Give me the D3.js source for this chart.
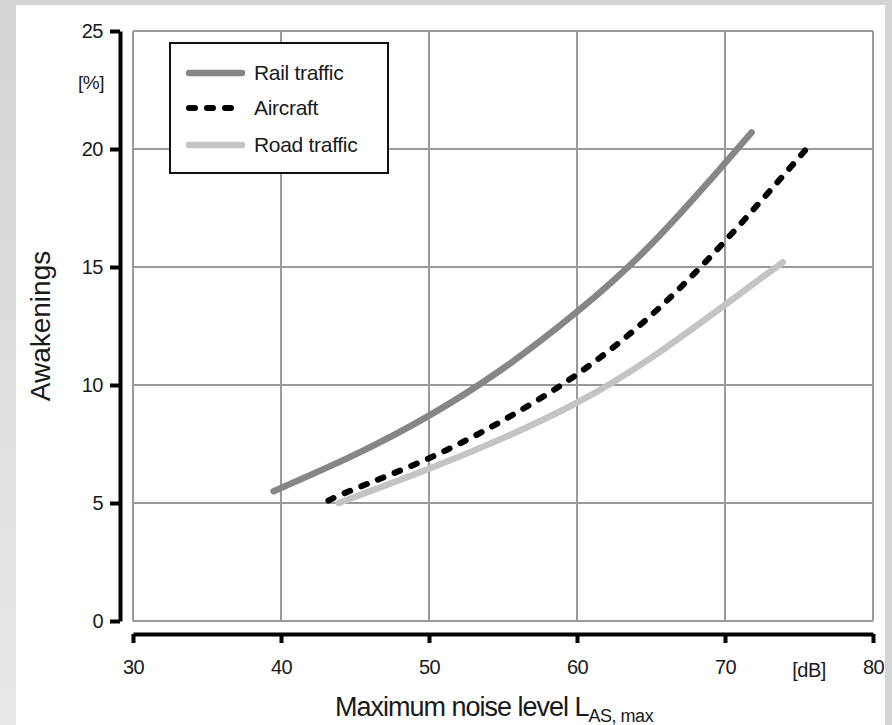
<!DOCTYPE html>
<html>
<head>
<meta charset="utf-8">
<script src="https://cdn.jsdelivr.net/npm/d3@7"></script>
<style>
  body { margin: 0; background: #d4d4d4; }
  svg { display: block; font-family: "Liberation Sans", Arial, sans-serif; }
</style>
</head>
<body>
<svg id="canvas"></svg>
<script>
//--data
let railX = [39.5, 45, 50, 55, 60, 65, 70, 71.8];
let railY = [5.5, 7.05, 8.7, 10.7, 13.1, 15.95, 19.4, 20.7];

let aircraftX = [43.2, 45, 50, 55, 60, 65, 70, 75.5];
let aircraftY = [5.1, 5.6, 6.9, 8.5, 10.45, 12.95, 16.1, 20.0];

let roadX = [43.9, 50, 55, 60, 65, 70, 73.9];
let roadY = [5.0, 6.45, 7.75, 9.25, 11.15, 13.4, 15.2];

let xTicks = [30, 40, 50, 60, 70, 80];
let yTicks = [0, 5, 10, 15, 20, 25];
let seriesNames = ['Rail traffic', 'Aircraft', 'Road traffic'];
//--

let width = 892;
let height = 725;

let canvas = d3.select('#canvas')
canvas.attr('width', width)
canvas.attr('height', height)

//--background panel
let fade = canvas.append('defs').append('linearGradient')
                 .attr('id', 'fade')
                 .attr('x1', 0).attr('y1', 0).attr('x2', 0).attr('y2', 1)
fade.append('stop').attr('offset', '0%').attr('stop-color', '#d4d4d4')
fade.append('stop').attr('offset', '100%').attr('stop-color', '#e8e8e8')

canvas.append('rect')
      .attr('x', 0).attr('y', 5)
      .attr('width', 16).attr('height', height - 5)
      .attr('fill', 'url(#fade)')

canvas.append('rect')
      .attr('x', 16).attr('y', 5)
      .attr('width', 869).attr('height', height - 5)
      .attr('fill', 'white')
//--

let x = d3.scaleLinear().domain([30, 80]).range([133, 873])
let y = d3.scaleLinear().domain([0, 25]).range([621, 31])

//--grid
let grid = canvas.append('g')
                 .attr('stroke', '#9a9a9a')
                 .attr('stroke-width', 2)
                 .attr('fill', 'none')

grid.selectAll('.vgrid')
    .data(xTicks)
    .enter()
    .append('line')
    .attr('x1', d => x(d)).attr('x2', d => x(d))
    .attr('y1', y(25)).attr('y2', y(0))

grid.selectAll('.hgrid')
    .data(yTicks)
    .enter()
    .append('line')
    .attr('x1', x(30)).attr('x2', x(80))
    .attr('y1', d => y(d)).attr('y2', d => y(d))
//--

//--axes
let yAxis = d3.axisLeft(y)
              .tickValues(yTicks)
              .tickSize(10)
              .tickSizeOuter(0)
              .tickPadding(7)

canvas.append('g')
      .attr('transform', 'translate(120, 0)')
      .call(yAxis)

let xAxis = d3.axisBottom(x)
              .tickValues(xTicks)
              .tickSize(9)
              .tickSizeOuter(0)
              .tickPadding(17)

canvas.append('g')
      .attr('transform', 'translate(0, 634)')
      .call(xAxis)

canvas.selectAll('.domain')
      .attr('stroke', '#000')
      .attr('stroke-width', 4)
canvas.selectAll('.tick line')
      .attr('stroke', '#000')
      .attr('stroke-width', 4)
canvas.selectAll('.tick text')
      .attr('font-family', '"Liberation Sans", Arial, sans-serif')
      .attr('font-size', 20)
      .attr('fill', '#1a1a1a')
      .attr('letter-spacing', -0.5)

canvas.append('text')
      .attr('x', 104).attr('y', 82)
      .attr('text-anchor', 'end')
      .attr('dy', '0.35em')
      .attr('font-size', 19)
      .attr('fill', '#1a1a1a')
      .attr('letter-spacing', -0.5)
      .text('[%]')

canvas.append('text')
      .attr('x', 809).attr('y', 677)
      .attr('text-anchor', 'middle')
      .attr('font-size', 20)
      .attr('fill', '#1a1a1a')
      .attr('letter-spacing', -0.5)
      .text('[dB]')

canvas.append('text')
      .attr('transform', 'translate(50, 326) rotate(-90)')
      .attr('text-anchor', 'middle')
      .attr('font-size', 28)
      .attr('fill', '#1a1a1a')
      .text('Awakenings')

let xTitle = canvas.append('text')
                   .attr('x', 335).attr('y', 716)
                   .attr('font-size', 27)
                   .attr('fill', '#1a1a1a')
                   .attr('letter-spacing', -1)
xTitle.append('tspan').text('Maximum noise level L')
xTitle.append('tspan')
      .attr('dy', 6)
      .attr('font-size', 18)
      .attr('letter-spacing', -0.5)
      .text('AS, max')
//--

//--curves
let line = d3.line()
             .x(d => x(d[0]))
             .y(d => y(d[1]))
             .curve(d3.curveNatural)

let rail = d3.zip(railX, railY)
let aircraft = d3.zip(aircraftX, aircraftY)
let road = d3.zip(roadX, roadY)

let styles = [
    {stroke: '#868686', width: 6.5, dash: null},
    {stroke: '#000000', width: 6, dash: '6,12'},
    {stroke: '#c4c4c4', width: 6.5, dash: null}
]

canvas.append('path')
      .datum(road)
      .attr('d', line)
      .attr('fill', 'none')
      .attr('stroke', styles[2].stroke)
      .attr('stroke-width', styles[2].width)
      .attr('stroke-linecap', 'round')

canvas.append('path')
      .datum(rail)
      .attr('d', line)
      .attr('fill', 'none')
      .attr('stroke', styles[0].stroke)
      .attr('stroke-width', styles[0].width)
      .attr('stroke-linecap', 'round')

canvas.append('path')
      .datum(aircraft)
      .attr('d', line)
      .attr('fill', 'none')
      .attr('stroke', styles[1].stroke)
      .attr('stroke-width', styles[1].width)
      .attr('stroke-dasharray', styles[1].dash)
      .attr('stroke-linecap', 'round')
//--

//--legend
let legend = canvas.append('g')

legend.append('rect')
      .attr('x', 170).attr('y', 43)
      .attr('width', 218).attr('height', 130)
      .attr('fill', 'white')
      .attr('stroke', '#111')
      .attr('stroke-width', 2)

let legendY = [73, 108, 145]

legend.selectAll('.legend-line')
      .data(seriesNames)
      .enter()
      .append('line')
      .attr('x1', 189).attr('x2', 242)
      .attr('y1', (d, i) => legendY[i])
      .attr('y2', (d, i) => legendY[i])
      .attr('stroke', (d, i) => styles[i].stroke)
      .attr('stroke-width', (d, i) => styles[i].width)
      .attr('stroke-dasharray', (d, i) => styles[i].dash)
      .attr('stroke-linecap', 'round')

legend.selectAll('.legend-text')
      .data(seriesNames)
      .enter()
      .append('text')
      .attr('x', 254)
      .attr('y', (d, i) => legendY[i])
      .attr('dy', '0.35em')
      .attr('font-size', 21)
      .attr('fill', '#1a1a1a')
      .attr('letter-spacing', -0.3)
      .text(d => d)
//--
</script>
</body>
</html>
